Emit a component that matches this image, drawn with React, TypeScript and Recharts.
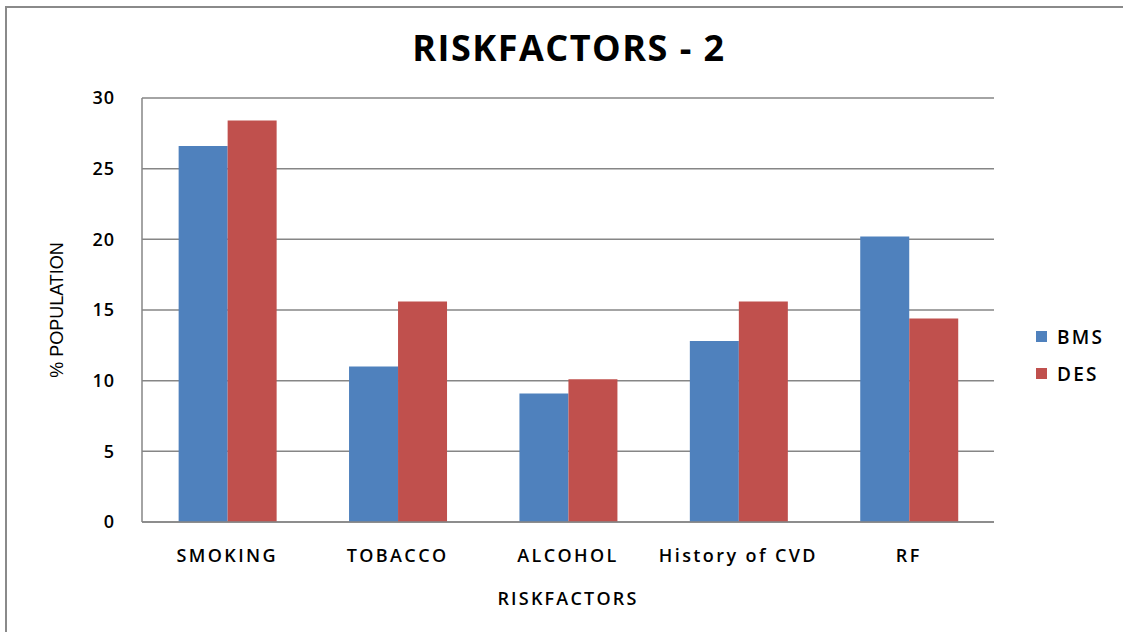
import React from "react";
import { BarChart, Bar, XAxis, YAxis, CartesianGrid, Legend } from "recharts";

const categories = ["SMOKING", "TOBACCO", "ALCOHOL", "History of CVD", "RF"];
const bmsValues = [26.6, 11.0, 9.1, 12.8, 20.2];
const desValues = [28.4, 15.6, 10.1, 15.6, 14.4];
const yTicks = [0, 5, 10, 15, 20, 25, 30];

const data = categories.map((c, i) => ({ name: c, BMS: bmsValues[i], DES: desValues[i] }));

const FONT = "'Open Sans', 'DejaVu Sans', sans-serif";

const LegendContent = (props: any) => {
  const { payload } = props;
  return (
    <div style={{ fontFamily: FONT }}>
      {(payload || []).map((p: any) => (
        <div key={p.value} style={{ display: "flex", alignItems: "center", height: 37 }}>
          <span style={{ width: 11, height: 11, background: p.color, display: "inline-block", marginRight: 10 }} />
          <span style={{ fontSize: 19, fontWeight: 600, letterSpacing: 2.2, color: "#000" }}>{p.value}</span>
        </div>
      ))}
    </div>
  );
};

export default function App() {
  return (
    <div style={{ position: "absolute", left: 0, top: 0, width: 1123, height: 632, background: "#fff" }}>
      <div
        style={{
          position: "absolute",
          left: 5,
          top: 6,
          width: 1118,
          height: 626,
          borderLeft: "2px solid #8a8a8a",
          borderTop: "2px solid #8a8a8a",
          boxSizing: "border-box",
        }}
      />
      <div
        style={{
          position: "absolute",
          left: 0,
          width: 1138,
          top: 22,
          textAlign: "center",
          fontFamily: FONT,
          fontWeight: 700,
          fontSize: 36,
          letterSpacing: 1.5,
          color: "#000",
          lineHeight: "52px",
        }}
      >
        RISKFACTORS - 2
      </div>
      <div style={{ position: "absolute", left: 0, top: 0 }}>
        <BarChart
          width={1123}
          height={632}
          data={data}
          margin={{ top: 98, right: 39, bottom: 0, left: 82 }}
          barCategoryGap="21.5%"
          barGap={0}
        >
          <CartesianGrid vertical={false} stroke="#868686" strokeWidth={1.5} />
          <XAxis
            dataKey="name"
            stroke="#868686"
            strokeWidth={1.5}
            tickLine={false}
            height={110}
            tickMargin={21}
            tick={{ fill: "#000", fontFamily: FONT, fontWeight: 600, fontSize: 18, letterSpacing: 2.4 }}
            label={{
              value: "RISKFACTORS",
              position: "insideTop",
              offset: 70,
              fill: "#000",
              fontFamily: FONT,
              fontWeight: 600,
              fontSize: 18,
              letterSpacing: 2.2,
            }}
          />
          <YAxis
            width={60}
            domain={[0, 30]}
            ticks={yTicks}
            stroke="#868686"
            strokeWidth={1.5}
            tickLine={false}
            tickMargin={21}
            tick={{ fill: "#000", fontFamily: FONT, fontWeight: 600, fontSize: 18, letterSpacing: 1 }}
            label={{
              value: "% POPULATION",
              angle: -90,
              position: "insideLeft",
              offset: -25,
              style: { textAnchor: "middle" },
              fill: "#000",
              fontFamily: "'Liberation Sans', Arial, sans-serif",
              fontSize: 18,
            }}
          />
          <Legend
            layout="horizontal"
            align="right"
            verticalAlign="middle"
            wrapperStyle={{ left: 1036, top: 318, width: 90 }}
            content={<LegendContent />}
          />
          <Bar dataKey="BMS" fill="#4F81BD" isAnimationActive={false} />
          <Bar dataKey="DES" fill="#C0504D" isAnimationActive={false} />
        </BarChart>
      </div>
    </div>
  );
}
